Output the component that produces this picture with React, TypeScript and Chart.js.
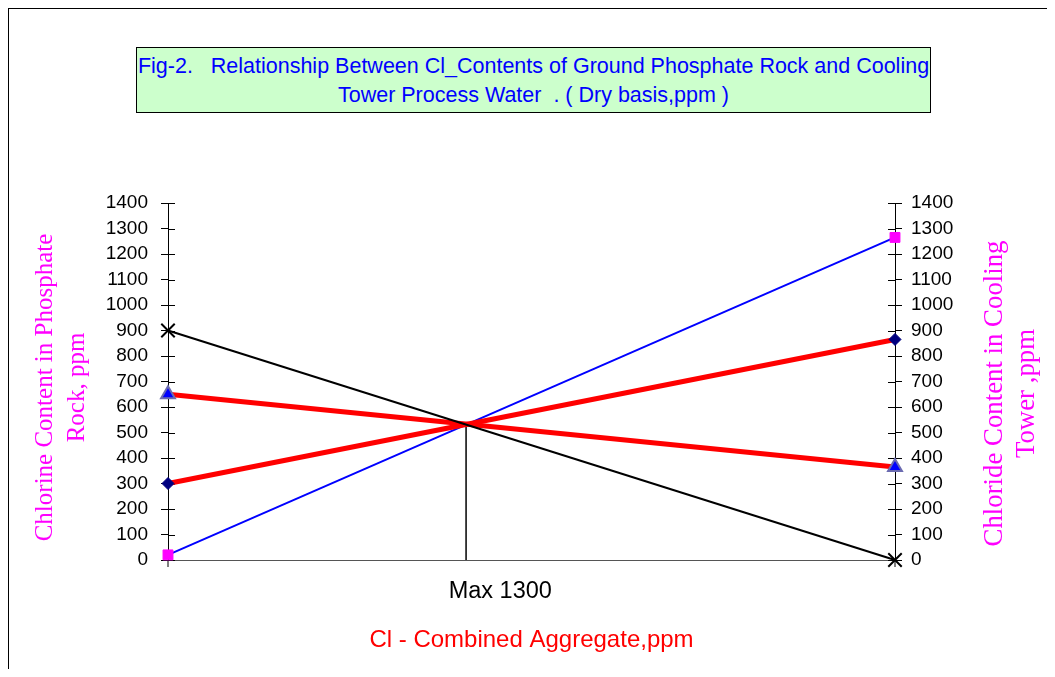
import React, { useEffect, useRef } from "react";
import { Chart, registerables } from "chart.js";

Chart.register(...registerables);

// ---- data ----
const xEnds = [0, 1]; // left axis (0) and right axis (1)
const blueSeries = [20, 1265]; // pink squares
const blackSeries = [900, 0]; // X markers
const redRising = [300, 865]; // navy diamonds
const redFalling = [650, 365]; // blue triangles
const crossX = 0.41; // common intersection
const crossY = 531;
const xTickPositions = [0.457];
const xTickLabels = ["Max 1300"];
const yTicks = { min: 0, max: 1400, step: 100 };

const titleLines = [
  "Fig-2.   Relationship Between Cl_Contents of Ground Phosphate Rock and Cooling",
  "Tower Process Water  . ( Dry basis,ppm )",
];
const leftTitle = ["Chlorine Content in Phosphate", "Rock, ppm"];
const rightTitle = ["Chloride Content in Cooling", "Tower ,ppm"];
const xTitle = "Cl - Combined Aggregate,ppm";

const pts = (ys: number[]) => xEnds.map((x, i) => ({ x, y: ys[i] }));

const SANS = "'Liberation Sans', Arial, sans-serif";
const SERIF = "'Liberation Serif', 'Times New Roman', serif";

const W = 1039;
const H = 661;

const innerTicks = {
  id: "innerTicks",
  beforeDatasetsDraw(chart: any) {
    const ctx = chart.ctx;
    ["yL", "yR"].forEach((id) => {
      const s = chart.scales[id];
      const x = id === "yL" ? s.right : s.left;
      const dir = id === "yL" ? 1 : -1;
      ctx.save();
      ctx.strokeStyle = "#000";
      ctx.lineWidth = 1;
      s.ticks.forEach((t: any) => {
        const y = Math.round(s.getPixelForValue(t.value)) + 0.5;
        ctx.beginPath();
        ctx.moveTo(x, y);
        ctx.lineTo(x + dir * 7, y);
        ctx.stroke();
      });
      ctx.beginPath();
      ctx.moveTo(x, s.bottom);
      ctx.lineTo(x, s.bottom + 7);
      ctx.stroke();
      ctx.restore();
    });
  },
};

const sideTitles = {
  id: "sideTitles",
  afterDraw(chart: any) {
    const ctx = chart.ctx;
    const ca = chart.chartArea;
    const draw = (lines: string[], xs: number[], cy: number, size: number) => {
      ctx.save();
      ctx.fillStyle = "#FF00FF";
      ctx.font = `${size}px ${SERIF}`;
      ctx.textAlign = "center";
      ctx.textBaseline = "middle";
      lines.forEach((l, i) => {
        ctx.save();
        ctx.translate(xs[i], cy);
        ctx.rotate(-Math.PI / 2);
        ctx.fillText(l, 0, 0);
        ctx.restore();
      });
      ctx.restore();
    };
    const cy = (ca.top + ca.bottom) / 2;
    draw(leftTitle, [37, 69], cy + 6, 25);
    draw(rightTitle, [987, 1019], cy + 12, 26.8);
  },
};

export default function App() {
  const ref = useRef<HTMLCanvasElement | null>(null);

  useEffect(() => {
    if (!ref.current) return;
    const yAxisCommon = {
      min: yTicks.min,
      max: yTicks.max,
      ticks: {
        stepSize: yTicks.step,
        autoSkip: false,
        color: "#000",
        font: { family: SANS, size: 19 },
        callback: (v: any) => String(v),
      },
      grid: {
        display: true,
        drawOnChartArea: false,
        drawTicks: true,
        tickLength: 7,
        color: "#000",
      },
      border: { display: true, color: "#000", width: 1 },
    };
    const chart = new Chart(ref.current, {
      type: "line",
      data: {
        datasets: [
          {
            label: "black",
            data: pts(blackSeries),
            borderColor: "#000",
            borderWidth: 2,
            pointStyle: "crossRot",
            pointRadius: 9.5,
            pointBorderColor: "#000",
            pointBorderWidth: 2,
            yAxisID: "yL",
          },
          {
            label: "redRising",
            data: pts(redRising),
            borderColor: "#FF0000",
            borderWidth: 5,
            pointStyle: "rectRot",
            pointRadius: 6,
            pointBackgroundColor: "#000080",
            pointBorderColor: "#000080",
            pointBorderWidth: 1,
            yAxisID: "yL",
          },
          {
            label: "redFalling",
            data: pts(redFalling),
            borderColor: "#FF0000",
            borderWidth: 5,
            pointStyle: "triangle",
            pointRadius: 8,
            pointBackgroundColor: "#0000FF",
            pointBorderColor: "#6B6BB0",
            pointBorderWidth: 2,
            yAxisID: "yL",
          },
          {
            label: "blue",
            data: pts(blueSeries),
            borderColor: "#0000FF",
            borderWidth: 2,
            pointStyle: "rect",
            pointRadius: 7,
            pointBackgroundColor: "#FF00FF",
            pointBorderColor: "#FF00FF",
            pointBorderWidth: 1,
            yAxisID: "yL",
          },
          {
            label: "vertical",
            data: [
              { x: crossX, y: 0 },
              { x: crossX, y: crossY },
            ],
            borderColor: "#000",
            borderWidth: 1.5,
            pointRadius: 0,
            yAxisID: "yL",
          },
        ],
      },
      options: {
        responsive: false,
        animation: false,
        clip: false,
        layout: { padding: { left: 0, right: 0, top: 195, bottom: 0 } },
        plugins: {
          legend: { display: false },
          tooltip: { enabled: false },
          title: { display: false },
        },
        scales: {
          x: {
            type: "linear",
            position: "bottom",
            min: 0,
            max: 1,
            afterBuildTicks: (s: any) => {
              s.ticks = xTickPositions.map((v) => ({ value: v }));
            },
            afterFit: (s: any) => {
              s.height = H - 552;
            },
            ticks: {
              autoSkip: false,
              maxRotation: 0,
              color: "#000",
              font: { family: SANS, size: 23.5 },
              padding: 9,
              callback: (v: any, i: number) => xTickLabels[i] ?? "",
            },
            grid: { display: false },
            border: { display: true, color: "#555", width: 1 },
            title: {
              display: true,
              text: xTitle,
              color: "#FF0000",
              font: { family: SANS, size: 24 },
              padding: { top: 0, bottom: 14 },
            },
          },
          yL: {
            ...yAxisCommon,
            position: "left",
            ticks: { ...yAxisCommon.ticks, padding: 13 },
            afterFit: (s: any) => {
              s.width = 160;
            },
          },
          yR: {
            ...yAxisCommon,
            position: "right",
            ticks: { ...yAxisCommon.ticks, padding: 9 },
            afterFit: (s: any) => {
              s.width = W - 887;
            },
          },
        },
      } as any,
      plugins: [innerTicks, sideTitles],
    });
    return () => chart.destroy();
  }, []);

  return (
    <div style={{ position: "relative", width: W, height: H }}>
      <canvas
        ref={ref}
        width={W}
        height={H}
        style={{ position: "absolute", left: 0, top: 0, width: W, height: H }}
      />
      <div
        style={{
          position: "absolute",
          left: 0,
          top: 0,
          width: W,
          height: H,
          borderLeft: "1px solid #000",
          borderTop: "1px solid #000",
          boxSizing: "border-box",
          pointerEvents: "none",
        }}
      />
      <div
        style={{
          position: "absolute",
          left: 128,
          top: 39,
          width: 795,
          height: 66,
          boxSizing: "border-box",
          background: "#CCFFCC",
          border: "1px solid #000",
          color: "#0000FF",
          fontFamily: SANS,
          fontSize: 21.5,
          lineHeight: "29px",
          textAlign: "center",
          whiteSpace: "pre",
          paddingTop: 4,
        }}
      >
        <div>{titleLines[0]}</div>
        <div>{titleLines[1]}</div>
      </div>
    </div>
  );
}
